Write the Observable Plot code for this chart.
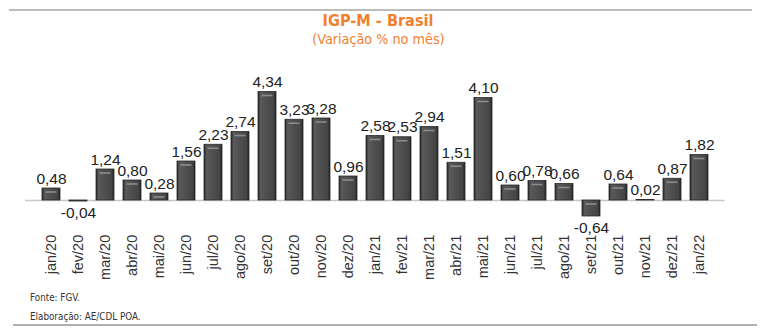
<!DOCTYPE html>
<html>
<head>
<meta charset="utf-8">
<script src="https://cdn.jsdelivr.net/npm/d3@7"></script>
<script src="https://cdn.jsdelivr.net/npm/@observablehq/plot@0.6"></script>
<style>
  html, body { margin: 0; padding: 0; background: #fff; }
  #wrap { position: relative; width: 761px; height: 335px; overflow: hidden; }
  #chart { position: absolute; left: 0; top: 0; }
  .hr { position: absolute; background: #bdbdbd; }
  .title { position: absolute; left: 0; width: 756px; text-align: center; color: #f27f2f;
           font-family: "DejaVu Sans", sans-serif; white-space: nowrap; }
  .title span { display: inline-block; transform-origin: 50% 50%; }
  .foot { position: absolute; left: 30px; color: #333; transform: scaleX(0.88); transform-origin: 0 50%;
          font-family: "DejaVu Sans", sans-serif; font-size: 10px; white-space: nowrap; }
</style>
</head>
<body>
<div id="wrap">
  <div id="chart"></div>
  <div class="hr" style="left:9px; top:9px; width:743px; height:2px;"></div>
  <div class="title" style="top:11px; font-size:16.5px; font-weight:bold;"><span style="transform:scaleX(0.88)">IGP-M - Brasil</span></div>
  <div class="title" style="top:31px; font-size:14px;"><span style="transform:scaleX(0.915)">(Variação % no mês)</span></div>
  <div class="foot" style="top:292px;">Fonte: FGV.</div>
  <div class="foot" style="top:311px;">Elaboração: AE/CDL POA.</div>
  <div class="hr" style="left:13px; top:324px; width:744px; height:1.5px; background:#b0b0b0;"></div>
</div>
<script>
const months = ["jan/20","fev/20","mar/20","abr/20","mai/20","jun/20","jul/20","ago/20","set/20","out/20","nov/20","dez/20",
                "jan/21","fev/21","mar/21","abr/21","mai/21","jun/21","jul/21","ago/21","set/21","out/21","nov/21","dez/21","jan/22"];
const values = [0.48,-0.04,1.24,0.80,0.28,1.56,2.23,2.74,4.34,3.23,3.28,0.96,
                2.58,2.53,2.94,1.51,4.10,0.60,0.78,0.66,-0.64,0.64,0.02,0.87,1.82];

const data = months.map((m, i) => ({month: m, value: values[i], label: values[i].toFixed(2).replace(".", ",")}));
const pos = data.filter(d => d.value >= 0);
const neg = data.filter(d => d.value < 0);
const big = data.filter(d => Math.abs(d.value) > 0.2);

const chart = Plot.plot({
  width: 761,
  height: 335,
  marginTop: 75,
  marginBottom: 103.75,
  marginLeft: 25,
  marginRight: 36.4,
  style: {fontFamily: "'Liberation Sans', Arial, sans-serif", color: "#333", background: "transparent"},
  x: {domain: months, padding: 0.35, label: null},
  y: {domain: [-1.25, 5], axis: null},
  marks: [
    Plot.ruleY([0], {stroke: "#c8c8c8", strokeWidth: 1.5}),
    Plot.barY(data, {x: "month", y: "value", fill: "url(#barGrad)", stroke: "#2a2a2a", strokeWidth: 0.8}),
    Plot.tickY(big, {x: "month", y: d => Math.max(0, d.value), dy: 3.5, insetLeft: 3.5, insetRight: 3.5, stroke: "#8c8c8c", strokeWidth: 1.6}),
    Plot.text(pos, {x: "month", y: "value", text: "label", lineAnchor: "bottom", dy: -5, fontSize: 15.5, fill: "#222"}),
    Plot.text(neg, {x: "month", y: "value", text: "label", lineAnchor: "top", dy: 5, fontSize: 15.5, fill: "#222"}),
    Plot.axisX({tickRotate: -90, tickSize: 0, tickPadding: 3, fontSize: 14.5, label: null, fill: "#333"})
  ]
});

chart.insertAdjacentHTML("afterbegin",
  '<defs><linearGradient id="barGrad" x1="0" x2="1" y1="0" y2="0">' +
  '<stop offset="0" stop-color="#262626"/>' +
  '<stop offset="0.14" stop-color="#5a5a5a"/>' +
  '<stop offset="0.5" stop-color="#4e4e4e"/>' +
  '<stop offset="0.86" stop-color="#454545"/>' +
  '<stop offset="1" stop-color="#222"/>' +
  '</linearGradient></defs>');

document.getElementById("chart").appendChild(chart);
</script>
</body>
</html>
